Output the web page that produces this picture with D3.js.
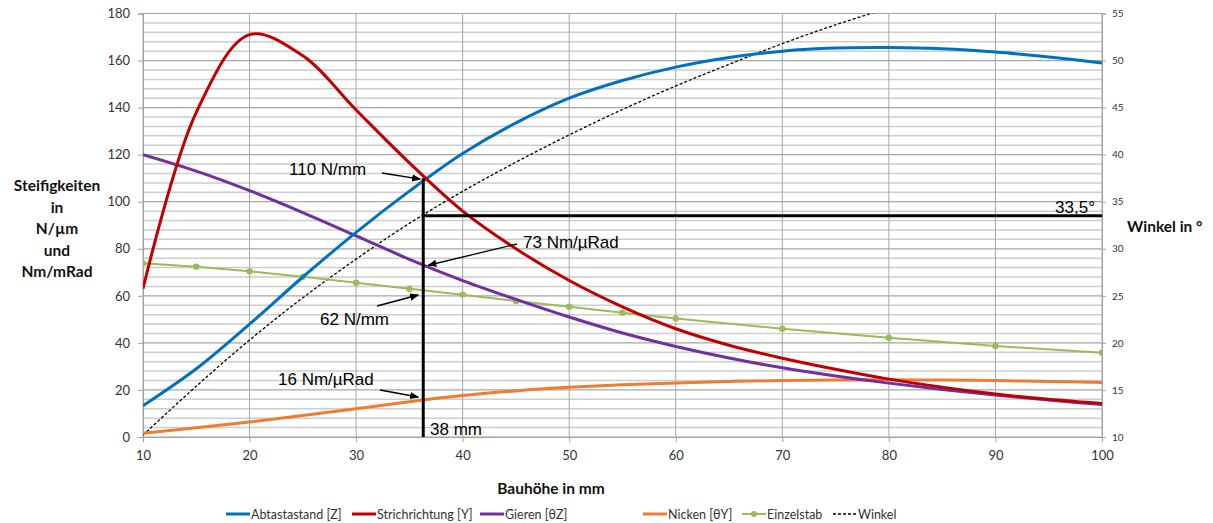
<!DOCTYPE html>
<html>
<head>
<meta charset="utf-8">
<script src="https://cdn.jsdelivr.net/npm/d3@7"></script>
<style>
  html, body { margin: 0; padding: 0; background: #fff; }
  svg { display: block; }
  .tick text { font-family: Lato, "Noto Sans", sans-serif; fill: #333; }
</style>
</head>
<body>
<svg id="chart" width="1213" height="523"></svg>
<script>
// Bauhöhe (mm) sample positions of the stiffness curves
const heights = [10, 15, 20, 25, 30, 35, 40, 45, 50, 55, 60, 65, 70, 75, 80, 85, 90, 95, 100];

// Stiffness series (left axis)
const abtastastand = [13.3, 29, 48, 68, 87, 104.5, 120.5, 133.5, 144, 151.5, 157.2, 161.3, 164, 165.3, 165.5, 165, 163.6, 161.5, 159];
const strichrichtung = [63, 138, 171, 162, 139, 116.5, 96, 80, 66.5, 55.3, 46, 39, 33.5, 28.8, 24.6, 21.2, 18.3, 16, 14.2];
const gieren = [120, 113, 104.7, 95.4, 85.5, 75.5, 66.5, 58.5, 51, 44.2, 38.5, 33.6, 29.4, 25.9, 22.9, 20.2, 17.8, 15.7, 13.8];
const nicken = [1.6, 3.9, 6.4, 9.1, 12, 15, 17.6, 19.6, 21.1, 22.2, 23, 23.6, 24, 24.2, 24.3, 24.2, 24, 23.6, 23.2];

// Einzelstab, drawn with point markers
const einzelHeights = [10, 15, 20, 25, 30, 35, 40, 45, 50, 55, 60, 70, 80, 90, 100];
const einzelstab = [73.8, 72.4, 70.4, 68.1, 65.6, 63, 60.5, 57.8, 55.4, 52.8, 50.4, 46, 42.2, 38.7, 35.8];

// Winkel in degrees (right axis)
const winkelHeights = [10, 15, 20, 25, 30, 35, 40, 45, 50, 55, 60, 65, 70, 75, 80];
const winkel = [10.2, 15.4, 20.3, 24.8, 28.9, 32.7, 36.1, 39.2, 42.1, 44.8, 47.3, 49.6, 51.8, 53.8, 55.6];

// Axis ticks
const xTicks = [10, 20, 30, 40, 50, 60, 70, 80, 90, 100];
const leftTicks = [0, 20, 40, 60, 80, 100, 120, 140, 160, 180];
const rightTicks = [10, 15, 20, 25, 30, 35, 40, 45, 50, 55];

// Reading at the chosen construction height
const markHeight = 36.3;
const markLabel = "38 mm";
const markStiffness = 110;
const markAngle = 33.5;
const markAngleLabel = "33,5°";

// Series styling
const seriesNames = ["Abtastastand [Z]", "Strichrichtung [Y]", "Gieren [θZ]", "Nicken [θY]", "Einzelstab", "Winkel"];
const seriesColors = ["#0070c0", "#c00000", "#7030a0", "#ed7d31", "#9bbb59", "#000000"];

const svg = d3.select("#chart");
const plot = { left: 143, right: 1102, top: 13.5, bottom: 437 };

const x = d3.scaleLinear().domain([10, 100]).range([plot.left, plot.right]);
const yL = d3.scaleLinear().domain([0, 180]).range([plot.bottom, plot.top]);
const yR = d3.scaleLinear().domain([10, 55]).range([plot.bottom, plot.top]);

const defs = svg.append("defs");
defs.append("clipPath").attr("id", "plotClip")
  .append("rect")
  .attr("x", plot.left).attr("y", plot.top)
  .attr("width", plot.right - plot.left).attr("height", plot.bottom - plot.top);
defs.append("marker").attr("id", "arrow")
  .attr("viewBox", "0 0 10 10").attr("refX", 9).attr("refY", 5)
  .attr("markerWidth", 7).attr("markerHeight", 7).attr("orient", "auto")
  .append("path").attr("d", "M0,1 L10,5 L0,9 Z").attr("fill", "#000");

// Horizontal gridlines: one per degree on the right axis, darker on the main ticks
const grid = svg.append("g");
d3.range(10, 56, 1).forEach(v => {
  const major = v % 5 === 0;
  grid.append("line")
    .attr("x1", plot.left).attr("x2", plot.right)
    .attr("y1", yR(v)).attr("y2", yR(v))
    .attr("stroke", major ? "#a6a6a6" : "#cdcdcd")
    .attr("stroke-width", major ? 1.2 : 1.5);
});
xTicks.forEach(v => {
  grid.append("line")
    .attr("x1", x(v)).attr("x2", x(v))
    .attr("y1", plot.top).attr("y2", plot.bottom)
    .attr("stroke", "#a6a6a6").attr("stroke-width", 1);
});

// Axes
const axisL = svg.append("g").attr("transform", `translate(${plot.left},0)`)
  .call(d3.axisLeft(yL).tickValues(leftTicks).tickSize(5).tickPadding(8));
axisL.selectAll("text").style("font-size", "13px");

const axisR = svg.append("g").attr("transform", `translate(${plot.right},0)`)
  .call(d3.axisRight(yR).tickValues(rightTicks).tickSize(4).tickPadding(6));
axisR.selectAll("text").style("font-size", "10px");

const axisB = svg.append("g").attr("transform", `translate(0,${plot.bottom})`)
  .call(d3.axisBottom(x).tickValues(xTicks).tickSize(5).tickPadding(9));
axisB.selectAll("text").style("font-size", "13px");

[axisL, axisR, axisB].forEach(a => {
  a.select(".domain").attr("stroke", "#a0a0a0");
  a.selectAll(".tick line").attr("stroke", "#a0a0a0");
});

// Curves
const lines = svg.append("g").attr("clip-path", "url(#plotClip)");
const smoothLeft = d3.line().x(d => x(d[0])).y(d => yL(d[1])).curve(d3.curveCatmullRom.alpha(0.5));
const straightLeft = d3.line().x(d => x(d[0])).y(d => yL(d[1]));
const smoothRight = d3.line().x(d => x(d[0])).y(d => yR(d[1])).curve(d3.curveCatmullRom.alpha(0.5));

const zip = (xs, ys) => xs.map((v, i) => [v, ys[i]]);

lines.append("path").attr("d", smoothRight(zip(winkelHeights, winkel)))
  .attr("fill", "none").attr("stroke", seriesColors[5]).attr("stroke-width", 1.3)
  .attr("stroke-dasharray", "3,2");

const einzelPts = zip(einzelHeights, einzelstab);
lines.append("path").attr("d", straightLeft(einzelPts))
  .attr("fill", "none").attr("stroke", seriesColors[4]).attr("stroke-width", 2);
lines.selectAll("circle.einzel").data(einzelPts).join("circle")
  .attr("class", "einzel")
  .attr("cx", d => x(d[0])).attr("cy", d => yL(d[1])).attr("r", 3.2)
  .attr("fill", seriesColors[4]);

[[nicken, 3], [gieren, 2], [abtastastand, 0], [strichrichtung, 1]].forEach(([vals, ci]) => {
  lines.append("path").attr("d", smoothLeft(zip(heights, vals)))
    .attr("fill", "none").attr("stroke", seriesColors[ci]).attr("stroke-width", 3)
    .attr("stroke-linejoin", "round");
});

// Construction lines at the chosen height
const ann = svg.append("g");
ann.append("line")
  .attr("x1", x(markHeight)).attr("x2", x(markHeight))
  .attr("y1", yL(markStiffness)).attr("y2", plot.bottom)
  .attr("stroke", "#000").attr("stroke-width", 3);
ann.append("line")
  .attr("x1", x(markHeight) - 1.5).attr("x2", plot.right)
  .attr("y1", yR(markAngle)).attr("y2", yR(markAngle))
  .attr("stroke", "#000").attr("stroke-width", 3);

const annFont = "'Liberation Sans', Arial, sans-serif";
const noteText = (tx, ty, txt, anchor) => ann.append("text")
  .attr("x", tx).attr("y", ty).attr("text-anchor", anchor || "start")
  .attr("font-family", annFont).attr("font-size", "17px").attr("fill", "#000")
  .text(txt);
const arrow = (x1, y1, x2, y2) => ann.append("line")
  .attr("x1", x1).attr("y1", y1).attr("x2", x2).attr("y2", y2)
  .attr("stroke", "#000").attr("stroke-width", 1.3).attr("marker-end", "url(#arrow)");

noteText(289, 175, "110 N/mm");
arrow(382, 173, x(markHeight) - 3, yL(markStiffness) + 1);

noteText(523, 248, "73 Nm/µRad");
arrow(517, 244, x(markHeight) + 5, yL(73));

noteText(320, 325, "62 N/mm");
arrow(377, 306, x(markHeight) - 5, 295);

noteText(278, 385, "16 Nm/µRad");
arrow(380, 390, x(markHeight) - 5, 397);

noteText(430, 435, markLabel);
noteText(1095, 213, markAngleLabel, "end");

// Axis titles
const titleFont = "Lato, 'Noto Sans', sans-serif";
const leftTitle = svg.append("text").attr("text-anchor", "middle")
  .attr("font-family", titleFont).attr("font-weight", "bold").attr("font-size", "15.5px").attr("fill", "#111");
["Steifigkeiten", "in", "N/µm", "und", "Nm/mRad"].forEach((t, i) => {
  leftTitle.append("tspan").attr("x", 57).attr("y", 191 + i * 21.5).text(t);
});

svg.append("text").attr("x", 1127).attr("y", 232)
  .attr("font-family", titleFont).attr("font-weight", "bold").attr("font-size", "15.5px").attr("fill", "#111")
  .text("Winkel in °");

svg.append("text").attr("x", 551).attr("y", 494).attr("text-anchor", "middle")
  .attr("font-family", titleFont).attr("font-weight", "bold").attr("font-size", "15.5px").attr("fill", "#111")
  .text("Bauhöhe in mm");

// Legend
const legendX = [226, 352, 480, 643, 742, 833];
const legend = svg.append("g");
seriesNames.forEach((name, i) => {
  const g = legend.append("g").attr("transform", `translate(${legendX[i]},514)`);
  const isWinkel = i === 5;
  g.append("line").attr("x1", 0).attr("x2", 24).attr("y1", 0).attr("y2", 0)
    .attr("stroke", seriesColors[i])
    .attr("stroke-width", isWinkel ? 1.3 : (i === 4 ? 2 : 3))
    .attr("stroke-dasharray", isWinkel ? "3,2" : null);
  if (i === 4) g.append("circle").attr("cx", 12).attr("cy", 0).attr("r", 3).attr("fill", seriesColors[4]);
  g.append("text").attr("x", 25).attr("y", 4.5)
    .attr("font-family", titleFont).attr("font-size", "12.5px").attr("fill", "#333")
    .text(name);
});
</script>
</body>
</html>
